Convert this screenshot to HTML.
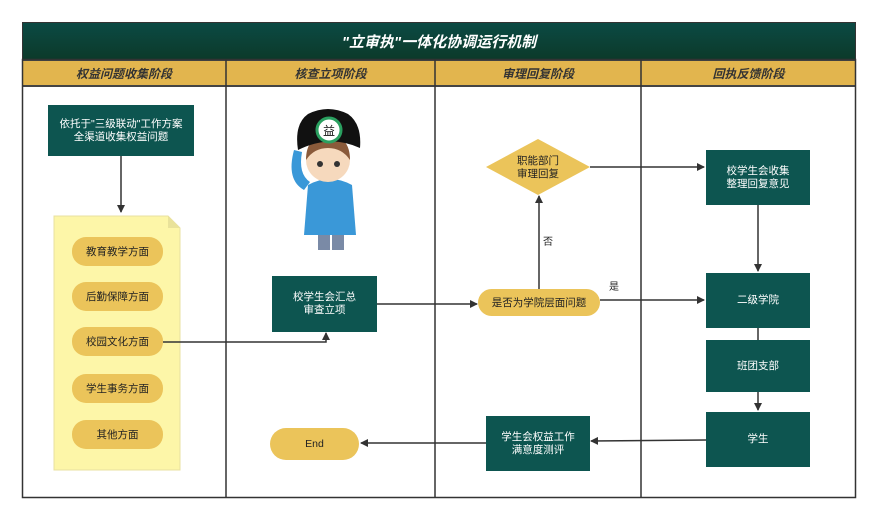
<!DOCTYPE html>
<html><head><meta charset="utf-8"><style>
body{margin:0;background:#fff;width:878px;height:521px;position:relative;overflow:hidden;font-family:"Liberation Sans","Noto Sans CJK SC",sans-serif}
.a{position:absolute;box-sizing:border-box;display:flex;align-items:center;justify-content:center;text-align:center}
.box{background:#0d5550;color:#fff;font-size:10.5px;line-height:13px}
.pill{background:#ebc45a;color:#222;font-size:10.5px;border-radius:14px}
.hd{font-style:italic;font-weight:bold;font-size:12px;color:#333;top:60px;height:26px}
</style></head><body>
<div class="a" style="left:22px;top:22px;width:834px;height:38px;background:linear-gradient(#0b4a44,#0c3a2a);color:#fff;font-style:italic;font-weight:bold;font-size:15px;border:1px solid #333">"立审执"一体化协调运行机制</div>
<div style="position:absolute;left:22px;top:59px;width:834px;height:28px;background:#e2b54e;border-top:2px solid #444;border-bottom:2px solid #444;box-sizing:border-box"></div>
<div class="a hd" style="left:22px;width:204px">权益问题收集阶段</div>
<div class="a hd" style="left:226px;width:209px">核查立项阶段</div>
<div class="a hd" style="left:435px;width:206px">审理回复阶段</div>
<div class="a hd" style="left:641px;width:215px">回执反馈阶段</div>
<svg style="position:absolute;left:0;top:0" width="878" height="521">
<defs><marker id="m" markerWidth="8" markerHeight="8" refX="7" refY="4" orient="auto" markerUnits="userSpaceOnUse"><path d="M0,0 L8,4 L0,8 z" fill="#333"/></marker></defs>
<rect x="22.5" y="59.5" width="833" height="438" fill="none" stroke="#333" stroke-width="1.5"/>
<g stroke="#333" stroke-width="1.5"><line x1="226" y1="59" x2="226" y2="497"/><line x1="435" y1="59" x2="435" y2="497"/><line x1="641" y1="59" x2="641" y2="497"/></g>
<path d="M54,216 H168 L180,228 V470 H54 Z" fill="#fdf6a8" stroke="#e8e0a0"/>
<path d="M168,216 V228 H180" fill="#e9e29a"/>
<g stroke="#333" stroke-width="1.5" fill="none" marker-end="url(#m)">
<line x1="121" y1="156" x2="121" y2="212"/>
<polyline points="163,342 326,342 326,333"/>
<line x1="377" y1="304" x2="477" y2="304"/>
<line x1="539" y1="290" x2="539" y2="196"/>
<line x1="590" y1="167" x2="704" y2="167"/>
<line x1="758" y1="205" x2="758" y2="271"/>
<line x1="600" y1="300" x2="704" y2="300"/>
<line x1="758" y1="392" x2="758" y2="410"/>
<line x1="706" y1="440" x2="591" y2="441"/>
<line x1="486" y1="443" x2="361" y2="443"/>
</g>
<line x1="758" y1="328" x2="758" y2="340" stroke="#333" stroke-width="1.5"/>
<polygon points="538,139 590,167 538,195 486,167" fill="#ebc45a"/>
<text x="538" y="164" font-size="10.5" text-anchor="middle" fill="#222" font-family="Liberation Sans,Noto Sans CJK SC,sans-serif">职能部门</text>
<text x="538" y="177" font-size="10.5" text-anchor="middle" fill="#222" font-family="Liberation Sans,Noto Sans CJK SC,sans-serif">审理回复</text>
<text x="543" y="245" font-size="10" fill="#222" font-family="Liberation Sans,Noto Sans CJK SC,sans-serif">否</text>
<text x="609" y="290" font-size="10" fill="#222" font-family="Liberation Sans,Noto Sans CJK SC,sans-serif">是</text>
<!-- figure -->
<g>
<path d="M318,232 h12 v18 h-12z M332,232 h12 v18 h-12z" fill="#7a8aa6"/>
<path d="M308,185 q22,-12 44,0 l4,50 h-52z" fill="#3a98d8"/>
<path d="M304,190 q-18,-10 -10,-40 l8,2 q-4,22 8,30z" fill="#3a98d8"/>
<circle cx="328" cy="160" r="22" fill="#f6d9bd"/>
<path d="M306,160 q0,-24 22,-26 q22,2 22,26 q-8,-12 -22,-12 q-14,0 -22,12z" fill="#8a5a3a"/>
<path d="M298,150 q-4,-26 10,-36 q20,-10 40,0 q14,10 12,34 q-30,-14 -62,2z" fill="#111"/>
<circle cx="329" cy="130" r="12" fill="#fff" stroke="#2aa060" stroke-width="3"/>
<text x="329" y="135" font-size="12" text-anchor="middle" fill="#111" font-family="Noto Sans CJK SC,sans-serif">益</text>
<circle cx="320" cy="164" r="3" fill="#333"/><circle cx="337" cy="164" r="3" fill="#333"/>
</g>
</svg>
<div class="a box" style="left:48px;top:105px;width:146px;height:51px">依托于"三级联动"工作方案<br>全渠道收集权益问题</div>
<div class="a pill" style="left:72px;top:237px;width:91px;height:29px">教育教学方面</div>
<div class="a pill" style="left:72px;top:282px;width:91px;height:29px">后勤保障方面</div>
<div class="a pill" style="left:72px;top:327px;width:91px;height:29px">校园文化方面</div>
<div class="a pill" style="left:72px;top:374px;width:91px;height:29px">学生事务方面</div>
<div class="a pill" style="left:72px;top:420px;width:91px;height:29px">其他方面</div>
<div class="a box" style="left:272px;top:276px;width:105px;height:56px">校学生会汇总<br>审查立项</div>
<div class="a pill" style="left:478px;top:289px;width:122px;height:27px">是否为学院层面问题</div>
<div class="a box" style="left:706px;top:150px;width:104px;height:55px">校学生会收集<br>整理回复意见</div>
<div class="a box" style="left:706px;top:273px;width:104px;height:55px">二级学院</div>
<div class="a box" style="left:706px;top:340px;width:104px;height:52px">班团支部</div>
<div class="a box" style="left:706px;top:412px;width:104px;height:55px">学生</div>
<div class="a box" style="left:486px;top:416px;width:104px;height:55px">学生会权益工作<br>满意度测评</div>
<div class="a pill" style="left:270px;top:428px;width:89px;height:32px;border-radius:16px">End</div>
</body></html>
